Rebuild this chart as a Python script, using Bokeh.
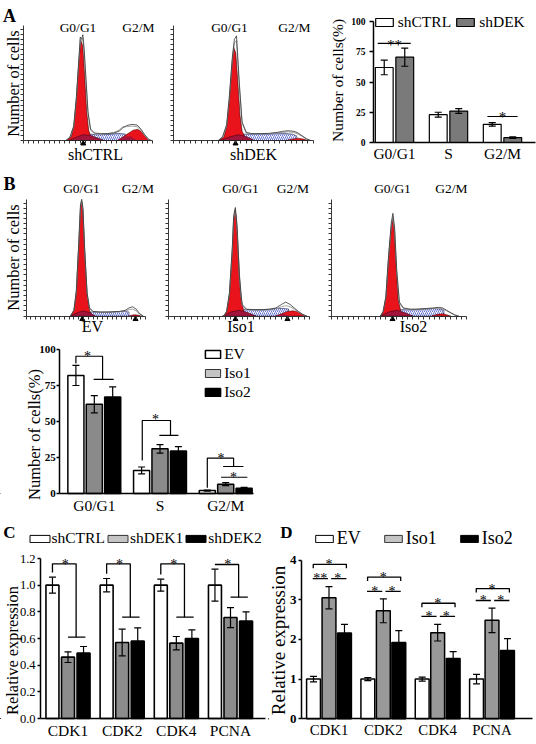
from bokeh.plotting import figure
from bokeh.models import (Range1d, Label, Legend, LegendItem, FixedTicker,
                          ColumnDataSource, PrintfTickFormatter)
from bokeh.layouts import row, column
from bokeh.embed import file_html
from bokeh.resources import INLINE

SERIF = "Liberation Serif"

# ---------------- data ----------------
a_phases = ["G0/G1", "S", "G2/M"]
a_shctrl = [62, 23, 15]
a_shctrl_err = [6, 2, 1.5]
a_shdek = [70.5, 26, 4]
a_shdek_err = [7.5, 2, 0.6]
a_yticks = [0, 25, 50, 75, 100]

b_phases = ["G0/G1", "S", "G2/M"]
b_ev = [82, 16, 2]
b_ev_err = [7, 2.4, 0.3]
b_iso1 = [62, 31, 6.5]
b_iso1_err = [6, 3, 1]
b_iso2 = [67, 29.5, 3.7]
b_iso2_err = [7, 3, 0.5]
b_yticks = [0, 25, 50, 75, 100]

c_genes = ["CDK1", "CDK2", "CDK4", "PCNA"]
c_shctrl = [1.0, 1.0, 1.0, 1.0]
c_shctrl_err = [0.06, 0.05, 0.045, 0.12]
c_shdek1 = [0.46, 0.57, 0.565, 0.757]
c_shdek1_err = [0.04, 0.1, 0.05, 0.075]
c_shdek2 = [0.49, 0.58, 0.60, 0.73]
c_shdek2_err = [0.05, 0.1, 0.065, 0.07]
c_yticks = [0.0, 0.2, 0.4, 0.6, 0.8, 1.0, 1.2]
c_br_top = [1.16, 1.16, 1.16, 1.155]
c_br_low = [0.61, 0.76, 0.76, 0.91]

d_genes = ["CDK1", "CDK2", "CDK4", "PCNA"]
d_ev = [1.0, 1.0, 1.0, 1.0]
d_ev_err = [0.07, 0.04, 0.05, 0.12]
d_iso1 = [3.05, 2.72, 2.17, 2.48]
d_iso1_err = [0.28, 0.3, 0.21, 0.31]
d_iso2 = [2.16, 1.92, 1.52, 1.72]
d_iso2_err = [0.22, 0.3, 0.17, 0.3]
d_yticks = [0, 1, 2, 3, 4]
d_br_outer = [3.89, 3.57, 2.91, 3.28]
d_br_inner = [3.53, 3.21, 2.58, 2.98]

# Flow cytometry histograms (fractions of the axis length / height)
h_shctrl = dict(
    g1_x=[0.33, 0.37, 0.39, 0.41, 0.43, 0.445, 0.46, 0.475, 0.49, 0.505, 0.52, 0.54],
    g1_y=[0.0, 0.03, 0.12, 0.36, 0.70, 0.87, 0.82, 0.55, 0.25, 0.09, 0.04, 0.0],
    dk_x=[0.35, 0.40, 0.46, 0.52, 0.58, 0.63],
    dk_y=[0.0, 0.025, 0.05, 0.045, 0.02, 0.0],
    s_x=[0.49, 0.52, 0.56, 0.60, 0.64, 0.68, 0.72, 0.76, 0.79, 0.79, 0.49],
    s_y=[0.05, 0.055, 0.05, 0.05, 0.052, 0.055, 0.06, 0.06, 0.055, 0.0, 0.0],
    g2_x=[0.73, 0.77, 0.81, 0.85, 0.885, 0.91, 0.94, 0.97],
    g2_y=[0.0, 0.03, 0.06, 0.09, 0.097, 0.08, 0.04, 0.0],
    g2d_x=[0.72, 0.78, 0.83, 0.88],
    g2d_y=[0.0, 0.035, 0.035, 0.0],
    o_x=[0.33, 0.36, 0.39, 0.41, 0.43, 0.44, 0.45, 0.46, 0.47, 0.48, 0.50, 0.52, 0.55,
         0.60, 0.65, 0.70, 0.74, 0.77, 0.80, 0.84, 0.88, 0.91, 0.94, 0.97, 0.99],
    o1_y=[0.0, 0.03, 0.13, 0.38, 0.72, 0.90, 0.88, 0.92, 0.80, 0.62, 0.25, 0.10, 0.065,
          0.06, 0.06, 0.065, 0.08, 0.11, 0.13, 0.14, 0.135, 0.10, 0.05, 0.01, 0.0],
    o2_y=[0.0, 0.03, 0.12, 0.36, 0.70, 0.88, 0.86, 0.89, 0.76, 0.58, 0.23, 0.09, 0.06,
          0.055, 0.06, 0.07, 0.09, 0.12, 0.12, 0.125, 0.12, 0.09, 0.045, 0.01, 0.0],
    mk_x=[0.463],
)
h_shdek = dict(
    g1_x=[0.32, 0.36, 0.38, 0.40, 0.415, 0.43, 0.445, 0.46, 0.475, 0.49, 0.51, 0.53],
    g1_y=[0.0, 0.03, 0.12, 0.36, 0.62, 0.81, 0.76, 0.50, 0.22, 0.08, 0.03, 0.0],
    dk_x=[0.33, 0.40, 0.46, 0.52, 0.58],
    dk_y=[0.0, 0.03, 0.05, 0.035, 0.0],
    s_x=[0.50, 0.55, 0.60, 0.65, 0.70, 0.75, 0.80, 0.85, 0.88, 0.88, 0.50],
    s_y=[0.055, 0.055, 0.055, 0.055, 0.058, 0.06, 0.06, 0.055, 0.04, 0.0, 0.0],
    g2_x=[0.80, 0.85, 0.89, 0.93, 0.96],
    g2_y=[0.0, 0.012, 0.02, 0.012, 0.0],
    g2d_x=[0.80, 0.85, 0.90],
    g2d_y=[0.0, 0.008, 0.0],
    o_x=[0.32, 0.35, 0.38, 0.40, 0.42, 0.435, 0.45, 0.47, 0.49, 0.52, 0.56, 0.62, 0.68,
         0.74, 0.78, 0.82, 0.86, 0.89, 0.92, 0.95, 0.98],
    o1_y=[0.0, 0.03, 0.14, 0.40, 0.72, 0.88, 0.91, 0.50, 0.16, 0.07, 0.06, 0.06, 0.062,
          0.07, 0.08, 0.085, 0.08, 0.065, 0.04, 0.015, 0.0],
    o2_y=[0.0, 0.03, 0.13, 0.38, 0.70, 0.85, 0.87, 0.47, 0.15, 0.065, 0.058, 0.058, 0.06,
          0.065, 0.07, 0.075, 0.07, 0.055, 0.035, 0.012, 0.0],
    mk_x=[0.443],
)
h_ev = dict(
    g1_x=[0.37, 0.40, 0.42, 0.44, 0.455, 0.465, 0.475, 0.49, 0.51, 0.53, 0.55],
    g1_y=[0.0, 0.05, 0.20, 0.60, 0.93, 0.98, 0.90, 0.55, 0.18, 0.05, 0.0],
    dk_x=[0.37, 0.43, 0.48, 0.53, 0.58],
    dk_y=[0.0, 0.03, 0.045, 0.03, 0.0],
    s_x=[0.52, 0.58, 0.64, 0.70, 0.76, 0.82, 0.86, 0.86, 0.52],
    s_y=[0.035, 0.033, 0.033, 0.035, 0.037, 0.04, 0.035, 0.0, 0.0],
    g2_x=[0.86, 0.90, 0.93, 0.96],
    g2_y=[0.0, 0.012, 0.01, 0.0],
    g2d_x=[0.86, 0.89, 0.92],
    g2d_y=[0.0, 0.006, 0.0],
    o_x=[0.37, 0.40, 0.42, 0.44, 0.455, 0.465, 0.475, 0.49, 0.51, 0.53, 0.56, 0.62, 0.70,
         0.78, 0.83, 0.86, 0.89, 0.92, 0.95, 0.98],
    o1_y=[0.0, 0.05, 0.22, 0.62, 0.96, 1.0, 0.93, 0.57, 0.20, 0.07, 0.04, 0.035, 0.035,
          0.04, 0.05, 0.07, 0.08, 0.06, 0.02, 0.0],
    o2_y=[0.0, 0.05, 0.21, 0.60, 0.94, 0.98, 0.91, 0.55, 0.19, 0.065, 0.038, 0.033, 0.033,
          0.038, 0.045, 0.055, 0.06, 0.045, 0.015, 0.0],
    mk_x=[0.47, 0.915],
)
h_iso1 = dict(
    g1_x=[0.39, 0.41, 0.43, 0.45, 0.46, 0.47, 0.48, 0.495, 0.51, 0.53, 0.55],
    g1_y=[0.0, 0.04, 0.18, 0.55, 0.82, 0.91, 0.84, 0.50, 0.16, 0.05, 0.0],
    dk_x=[0.38, 0.44, 0.50, 0.56, 0.62],
    dk_y=[0.0, 0.035, 0.05, 0.03, 0.0],
    s_x=[0.53, 0.58, 0.63, 0.68, 0.73, 0.78, 0.82, 0.85, 0.85, 0.53],
    s_y=[0.055, 0.055, 0.055, 0.055, 0.06, 0.065, 0.065, 0.06, 0.0, 0.0],
    g2_x=[0.76, 0.80, 0.84, 0.88, 0.91, 0.94, 0.97],
    g2_y=[0.0, 0.02, 0.04, 0.045, 0.04, 0.02, 0.0],
    g2d_x=[0.76, 0.81, 0.86],
    g2d_y=[0.0, 0.02, 0.0],
    o_x=[0.39, 0.41, 0.43, 0.45, 0.46, 0.472, 0.485, 0.50, 0.52, 0.55, 0.60, 0.66, 0.72,
         0.76, 0.80, 0.83, 0.86, 0.89, 0.92, 0.95, 0.98],
    o1_y=[0.0, 0.04, 0.20, 0.58, 0.86, 0.93, 0.75, 0.35, 0.10, 0.06, 0.055, 0.055, 0.06,
          0.07, 0.10, 0.12, 0.10, 0.07, 0.04, 0.015, 0.0],
    o2_y=[0.0, 0.04, 0.19, 0.56, 0.84, 0.91, 0.72, 0.33, 0.09, 0.055, 0.05, 0.05, 0.055,
          0.065, 0.08, 0.09, 0.08, 0.06, 0.035, 0.012, 0.0],
    mk_x=[0.473, 0.842],
)
h_iso2 = dict(
    g1_x=[0.36, 0.38, 0.40, 0.42, 0.44, 0.45, 0.46, 0.475, 0.49, 0.51, 0.53],
    g1_y=[0.0, 0.04, 0.16, 0.50, 0.76, 0.83, 0.77, 0.45, 0.15, 0.04, 0.0],
    dk_x=[0.36, 0.42, 0.48, 0.54, 0.60],
    dk_y=[0.0, 0.035, 0.05, 0.03, 0.0],
    s_x=[0.50, 0.55, 0.60, 0.65, 0.70, 0.75, 0.80, 0.83, 0.83, 0.50],
    s_y=[0.055, 0.055, 0.055, 0.06, 0.062, 0.065, 0.06, 0.05, 0.0, 0.0],
    g2_x=[0.74, 0.78, 0.82, 0.85, 0.88],
    g2_y=[0.0, 0.015, 0.02, 0.012, 0.0],
    g2d_x=[0.74, 0.78, 0.82],
    g2d_y=[0.0, 0.01, 0.0],
    o_x=[0.36, 0.38, 0.40, 0.42, 0.44, 0.452, 0.465, 0.48, 0.50, 0.53, 0.58, 0.64, 0.70,
         0.75, 0.79, 0.82, 0.85, 0.88, 0.91, 0.94],
    o1_y=[0.0, 0.04, 0.17, 0.52, 0.80, 0.88, 0.75, 0.40, 0.12, 0.07, 0.06, 0.06, 0.065,
          0.07, 0.075, 0.07, 0.05, 0.03, 0.01, 0.0],
    o2_y=[0.0, 0.04, 0.16, 0.50, 0.78, 0.85, 0.72, 0.38, 0.11, 0.065, 0.055, 0.055, 0.06,
          0.065, 0.068, 0.062, 0.045, 0.025, 0.008, 0.0],
    mk_x=[0.449],
)

RED = "#e8131b"
DARKRED = "#a3143a"
HATCH = "#3b4cc8"
LIGHT = "#c4c4c4"


def fs(v):
    return f"{v:.1f}px"


class Panel:
    """A figure whose frame is its whole canvas; (cx0, cy0, cx1, cy1) in page px."""
    def __init__(self, canvas, xcal, ycal):
        cx0, cy0, cx1, cy1 = canvas
        self.cx0, self.cy0, self.cx1, self.cy1 = canvas
        self.xcal, self.ycal = xcal, ycal
        p = figure(width=cx1 - cx0, height=cy1 - cy0,
                   x_range=Range1d(self.xd(cx0), self.xd(cx1)),
                   y_range=Range1d(self.yd(cy1), self.yd(cy0)),
                   output_backend="svg", toolbar_location=None,
                   min_border_left=0, min_border_right=0,
                   min_border_top=0, min_border_bottom=0)
        p.xgrid.visible = False
        p.ygrid.visible = False
        p.outline_line_color = None
        p.background_fill_color = "white"
        p.border_fill_color = "white"
        self.p = p

    def xd(self, px):
        a, va, b, vb = self.xcal
        return va + (px - a) * (vb - va) / (b - a)

    def yd(self, py):
        a, va, b, vb = self.ycal
        return va + (py - a) * (vb - va) / (b - a)

    def ypx(self, v):
        a, va, b, vb = self.ycal
        return a + (v - va) * (b - a) / (vb - va)

    def ppu_x(self):
        a, va, b, vb = self.xcal
        return abs((b - a) / (vb - va))

    def text(self, px, py, s, size, bold=False, angle=0):
        self.p.add_layout(Label(
            x=self.xd(px), y=self.yd(py), text=s, angle=angle, angle_units="deg",
            text_font=SERIF, text_font_size=fs(size),
            text_font_style="bold" if bold else "normal",
            text_align="center", text_baseline="middle", text_color="black"))

    def star(self, xdata, yline, s, size=14, gap=6):
        base_px = self.ypx(yline) - gap + 0.45 * size
        self.p.add_layout(Label(
            x=xdata, y=self.yd(base_px), text=s, text_font=SERIF,
            text_font_size=fs(size), text_align="center",
            text_baseline="alphabetic", text_color="black"))


def style_axis(ax, lw=1.5, size=None, bold=False, tick_out=3, standoff=2):
    ax.axis_line_width = lw
    ax.axis_line_color = "black"
    ax.major_tick_line_width = lw
    ax.major_tick_line_color = "black"
    ax.major_tick_in = 0
    ax.major_tick_out = int(tick_out)
    ax.minor_tick_line_color = None
    ax.major_label_standoff = int(standoff)
    ax.major_label_text_font = SERIF
    ax.major_label_text_color = "black"
    if size is not None:
        ax.major_label_text_font_size = fs(size)
    ax.major_label_text_font_style = "bold" if bold else "normal"


def bars(pan, xs, vals, errs, color, width, lw=1.5):
    p = pan.p
    cap = 3.5 / pan.ppu_x()
    lo = [v - e for v, e in zip(vals, errs)]
    hi = [v + e for v, e in zip(vals, errs)]
    src = ColumnDataSource(dict(x=xs, top=vals, lo=lo, hi=hi,
                                xl=[x - cap for x in xs], xr=[x + cap for x in xs]))
    r = p.vbar(x="x", top="top", bottom=0, width=width, source=src,
               fill_color=color, line_color="black", line_width=lw)
    p.segment(x0="x", y0="lo", x1="x", y1="hi", source=src, line_color="black", line_width=1.2)
    p.segment(x0="xl", y0="hi", x1="xr", y1="hi", source=src, line_color="black", line_width=1.2)
    p.segment(x0="xl", y0="lo", x1="xr", y1="lo", source=src, line_color="black", line_width=1.2)
    return r


def swatch(pan, color, line="black"):
    """A bar placed outside the visible range, used only as a legend swatch."""
    far = pan.p.x_range.start - 1000.0
    return pan.p.vbar(x=[far], top=[0.0], bottom=[0.0], width=0.1, fill_color=color,
                      line_color=line, line_width=1)


def bar_axes(pan, labels, xsize, standoff, axis_px, yticks, ybounds, ysize, ybold,
             y_tick_out, y_standoff, x_bounds_px):
    p = pan.p
    ax = p.xaxis[0]
    ticks = list(range(1, len(labels) + 1))
    ax.ticker = FixedTicker(ticks=ticks)
    ax.major_label_overrides = {t: lab for t, lab in zip(ticks, labels)}
    style_axis(ax, lw=1.5, size=xsize, tick_out=0, standoff=standoff)
    ax.fixed_location = 0
    ax.bounds = (pan.xd(x_bounds_px[0]), pan.xd(x_bounds_px[1]))
    ya = p.yaxis[0]
    ya.ticker = FixedTicker(ticks=yticks)
    ya.bounds = ybounds
    ya.fixed_location = pan.xd(axis_px)
    style_axis(ya, lw=1.5, size=ysize, bold=ybold, tick_out=y_tick_out, standoff=y_standoff)
    return ya


def legend(pan, items, box_left, center_y, box_w, size, orientation="horizontal",
           standoff=2, spacing=0, item_h=20, box_h=8):
    gw = box_w / 0.8
    item_h = int(round(item_h))
    vx = (box_left - pan.cx0) - 0.1 * gw
    vy = (pan.cy1 - center_y) - item_h / 2
    leg = Legend(items=[LegendItem(label=l, renderers=[r]) for l, r in items],
                 location=(vx, vy), orientation=orientation,
                 glyph_width=int(round(gw)), glyph_height=int(round(box_h / 0.8)),
                 label_standoff=int(standoff),
                 spacing=int(spacing), padding=0, margin=0, label_height=item_h,
                 label_width=0, border_line_color=None, background_fill_alpha=0,
                 label_text_font=SERIF, label_text_font_size=fs(size),
                 label_text_color="black")
    pan.p.add_layout(leg)
    return leg


def histogram(pan, h, top_labels, top_y, bottom_label, bottom_y):
    p = pan.p
    p.patch(h["s_x"], h["s_y"], fill_color="white", hatch_pattern="/",
            hatch_color=HATCH, hatch_scale=4, hatch_weight=0.8,
            line_color="#1a1a50", line_width=0.6)
    p.patch(h["g1_x"], h["g1_y"], fill_color=RED, line_color="#3a0000", line_width=0.6)
    p.patch(h["dk_x"], h["dk_y"], fill_color=DARKRED, line_color="#300010", line_width=0.5)
    p.patch(h["g2_x"], h["g2_y"], fill_color=RED, line_color="#3a0000", line_width=0.5)
    p.patch(h["g2d_x"], h["g2d_y"], fill_color=DARKRED, line_color=None)
    p.line(h["o_x"], h["o2_y"], line_color="#9a9a9a", line_width=0.9)
    p.line(h["o_x"], h["o1_y"], line_color="#333333", line_width=0.8)
    a, va, b, vb = pan.ycal
    below = 3.0 / abs(b - a)
    p.scatter(h["mk_x"], [-below] * len(h["mk_x"]), marker="triangle", size=5,
              fill_color="black", line_color="black")
    xa = p.xaxis[0]
    ya = p.yaxis[0]
    for ax in (xa, ya):
        ax.axis_line_color = "#222222"
        ax.axis_line_width = 0.9
        ax.minor_tick_line_color = "#333333"
        ax.minor_tick_in = 0
        ax.minor_tick_out = 3
        ax.fixed_location = 0
        ax.bounds = (0, 1)
    xa.ticker = FixedTicker(ticks=[], minor_ticks=[i * 0.04 for i in range(26)])
    ya.ticker = FixedTicker(ticks=[], minor_ticks=[i * 0.044 for i in range(23)])
    for (px, s) in top_labels:
        pan.text(px, top_y, s, 13.5)
    pan.text(bottom_label[0], bottom_y, bottom_label[1], 16)


# ---------------- Row A ----------------
A1 = Panel((0, 0, 160, 172), (23, 0, 152, 1), (140, 0, 25, 1))
A2 = Panel((160, 0, 322, 172), (173, 0, 313, 1), (140, 0, 25, 1))
histogram(A1, h_shctrl, [(77.5, "G0/G1"), (138, "G2/M")], 26.5, (95, "shCTRL"), 154)
histogram(A2, h_shdek, [(229, "G0/G1"), (294, "G2/M")], 26.5, (253, "shDEK"), 154)
A1.text(13, 83, "Number of cells", 16.5, angle=90)
A1.text(9, 15, "A", 18, bold=True)

AB = Panel((322, 0, 536, 172), (394, 1, 448, 2), (142, 0, 21, 100))
xs = [1, 2, 3]
r_a1 = bars(AB, [x - 0.19 for x in xs], a_shctrl, a_shctrl_err, "white", 0.33, 1.2)
r_a2 = bars(AB, [x + 0.19 for x in xs], a_shdek, a_shdek_err, "#7a7a7a", 0.33, 1.2)
bar_axes(AB, a_phases, 15.5, 2, 373, a_yticks, (0, 100), 9.5, True, 4, 4, (373, 535))
AB.p.segment([0.69, 2.72], [82, 21.5], [1.30, 3.28], [82, 21.5], line_color="black", line_width=1.2)
AB.star(1.0, 82, "**", 15, gap=5)
AB.star(3.0, 21.5, "*", 15, gap=6)
AB.text(337, 80, "Number of cells(%)", 15.5, angle=90)
legend(AB, [("shCTRL", r_a1), ("shDEK", r_a2)], 375, 22, 18, 15.5, standoff=3, spacing=3)

# ---------------- Row B (histograms) ----------------
B1 = Panel((0, 172, 157, 338), (25.6, 0, 145.2, 1), (315.6, 0, 198.8, 1))
B2 = Panel((157, 172, 320, 338), (168.4, 0, 309.2, 1), (315.6, 0, 198.8, 1))
B3 = Panel((320, 172, 536, 338), (331.4, 0, 466.4, 1), (315.6, 0, 198.8, 1))
histogram(B1, h_ev, [(81, "G0/G1"), (137.5, "G2/M")], 187.5, (92, "EV"), 326)
histogram(B2, h_iso1, [(240, "G0/G1"), (292.5, "G2/M")], 187.5, (240.5, "Iso1"), 326)
histogram(B3, h_iso2, [(392, "G0/G1"), (451, "G2/M")], 187.5, (413, "Iso2"), 326)
B1.text(12.5, 257, "Number of cells", 16.5, angle=90)
B1.text(9, 183, "B", 18, bold=True)

# ---------------- Row B (bar chart) ----------------
BB = Panel((0, 338, 536, 522), (93.8, 1, 159.5, 2), (493, 0, 349, 100))
r_b1 = bars(BB, [x - 0.28 for x in xs], b_ev, b_ev_err, "white", 0.245)
r_b2 = bars(BB, [x for x in xs], b_iso1, b_iso1_err, "#8a8a8a", 0.245)
r_b3 = bars(BB, [x + 0.28 for x in xs], b_iso2, b_iso2_err, "black", 0.245)
bar_axes(BB, b_phases, 15.5, 3, 59.3, b_yticks, (0, 100), 11, True, 3, 1, (59.3, 253))
bx = [[0.72, 0.72, 1.126, 1.126], [0.99, 1.295],
      [1.73, 1.73, 2.16, 2.16], [1.99, 2.28],
      [2.72, 2.72, 3.12, 3.12], [2.96, 3.27], [2.93, 3.33]]
by = [[90.3, 95.3, 95.3, 79.2], [79.2, 79.2],
      [22.9, 50.7, 50.7, 40.3], [40.3, 40.3],
      [4.0, 24.5, 24.5, 18.75], [18.75, 18.75], [11.3, 11.3]]
BB.p.multi_line(bx, by, line_color="black", line_width=1.2)
BB.star(0.895, 95.3, "*", 14, gap=6.5)
BB.star(1.93, 50.7, "*", 14, gap=7)
BB.star(2.93, 24.5, "*", 14, gap=5.7)
BB.star(3.12, 11.3, "*", 14, gap=6.5)
BB.text(34, 434, "Number of cells(%)", 16.5, angle=90)
sw_b = swatch(BB, LIGHT, "#333333")
legend(BB, [("EV", r_b1), ("Iso1", sw_b), ("Iso2", r_b3)], 205, 392, 15, 15.5,
       orientation="vertical", standoff=2, spacing=0, item_h=19)

# ---------------- Row C / D ----------------
gx = [1, 2, 3, 4]
C = Panel((0, 522, 268, 744), (67.5, 1, 230, 4), (718, 0, 558, 1.2))
r_c1 = bars(C, [x - 0.287 for x in gx], c_shctrl, c_shctrl_err, "white", 0.24, 1.6)
r_c2 = bars(C, gx, c_shdek1, c_shdek1_err, "#8c8c8c", 0.24, 1.6)
r_c3 = bars(C, [x + 0.287 for x in gx], c_shdek2, c_shdek2_err, "black", 0.24, 1.6)
ya = bar_axes(C, c_genes, 15.5, 3, 40, c_yticks, (0, 1.2), 12.5, False, 3, 2, (40, 265))
ya.formatter = PrintfTickFormatter(format="%.1f")
cxs, cys = [], []
for i, (t, lo, v, e) in enumerate(zip(c_br_top, c_br_low, c_shctrl, c_shctrl_err)):
    g = i + 1
    cxs.append([g - 0.287, g - 0.287, g + 0.15, g + 0.15])
    cys.append([v + e + 0.035, t, t, lo])
    cxs.append([g, g + 0.32])
    cys.append([lo, lo])
    C.star(g - 0.05, t, "*", 14, gap=6)
C.p.multi_line(cxs, cys, line_color="black", line_width=1.3)
C.text(12, 650, "Relative expression", 16.4, angle=90)
C.text(9, 532, "C", 17, bold=True)
sw_c1 = swatch(C, "white")
sw_c2 = swatch(C, LIGHT, "#333333")
sw_c3 = swatch(C, "black")
legend(C, [("shCTRL", sw_c1), ("shDEK1", sw_c2), ("shDEK2", sw_c3)], 29, 538, 20, 15.5,
       standoff=0, spacing=0, box_h=7)

D = Panel((268, 522, 536, 744), (328.5, 1, 491.5, 4), (718.3, 0, 559.5, 4))
r_d1 = bars(D, [x - 0.285 for x in gx], d_ev, d_ev_err, "white", 0.255, 1.5)
r_d2 = bars(D, gx, d_iso1, d_iso1_err, "#999999", 0.255, 1.5)
r_d3 = bars(D, [x + 0.285 for x in gx], d_iso2, d_iso2_err, "black", 0.255, 1.5)
bar_axes(D, d_genes, 14.8, 3, 301, d_yticks, (0, 4), 13, True, 3, 2, (301, 532))
dxs, dys = [], []
drop = 0.1
for i, (o, n) in enumerate(zip(d_br_outer, d_br_inner)):
    g = i + 1
    dxs.append([g - 0.29, g - 0.29, g + 0.32, g + 0.32])
    dys.append([o - drop, o, o, o - drop])
    dxs.append([g - 0.30, g - 0.02])
    dys.append([n, n])
    dxs.append([g + 0.04, g + 0.32])
    dys.append([n, n])
    D.star(g, o, "*", 14, gap=5.7)
    D.star(g - 0.16, n, "**" if i == 0 else "*", 14, gap=6)
    D.star(g + 0.16, n, "*", 14, gap=6)
D.p.multi_line(dxs, dys, line_color="black", line_width=1.3)
D.text(278, 640, "Relative expression", 19, angle=90)
D.text(286, 532, "D", 17, bold=True)
sw_d1 = swatch(D, "white")
sw_d2 = swatch(D, LIGHT, "#333333")
sw_d3 = swatch(D, "black")
legend(D, [("EV", sw_d1), ("Iso1", sw_d2), ("Iso2", sw_d3)], 315, 538, 18, 18,
       standoff=2, spacing=21, item_h=24, box_h=7)

layout = column(
    row(A1.p, A2.p, AB.p, spacing=0),
    row(B1.p, B2.p, B3.p, spacing=0),
    row(BB.p, spacing=0),
    row(C.p, D.p, spacing=0),
    spacing=0,
)

open("out.html", "w").write(file_html(layout, INLINE))
